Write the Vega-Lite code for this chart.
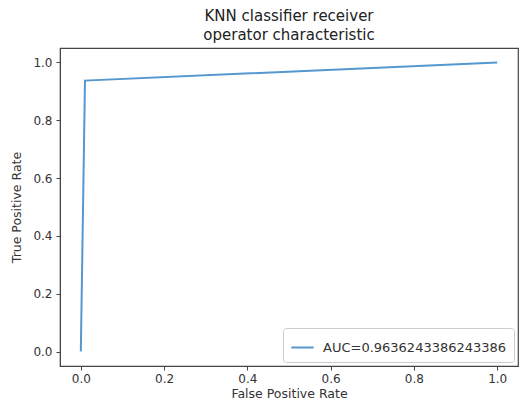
{
  "$schema": "https://vega.github.io/schema/vega-lite/v6.json",
  "autosize": {"type": "none"},
  "width": 458,
  "height": 318,
  "padding": {"left": 60, "top": 48, "right": 1, "bottom": 36},
  "background": "white",
  "config": {
    "font": "DejaVu Sans",
    "view": {"stroke": "#444", "strokeWidth": 1.2}
  },
  "title": {
    "text": ["KNN classifier receiver", "operator characteristic"],
    "fontSize": 15,
    "fontWeight": "normal",
    "color": "#222",
    "anchor": "middle",
    "offset": 5,
    "lineHeight": 19
  },
  "data": {
    "values": [
      {"fpr": 0.0, "tpr": 0.0, "series": "AUC=0.9636243386243386"},
      {"fpr": 0.01, "tpr": 0.9372, "series": "AUC=0.9636243386243386"},
      {"fpr": 1.0, "tpr": 1.0, "series": "AUC=0.9636243386243386"}
    ]
  },
  "mark": {"type": "line", "strokeWidth": 2, "clip": true},
  "encoding": {
    "x": {
      "field": "fpr", "type": "quantitative",
      "scale": {"domain": [-0.05, 1.05], "nice": false, "zero": false},
      "axis": {
        "title": "False Positive Rate", "titleFontSize": 12.5, "titleFontWeight": "normal", "titleColor": "#333",
        "values": [0, 0.2, 0.4, 0.6, 0.8, 1.0], "format": ".1f",
        "labelFontSize": 12, "labelColor": "#333", "grid": false,
        "domainColor": "#444", "tickColor": "#444", "tickSize": 4, "labelPadding": 3, "titlePadding": 3, "labelFlush": false
      }
    },
    "y": {
      "field": "tpr", "type": "quantitative",
      "scale": {"domain": [-0.05, 1.05], "nice": false, "zero": false},
      "axis": {
        "title": "True Positive Rate", "titleFontSize": 12.5, "titleFontWeight": "normal", "titleColor": "#333",
        "values": [0, 0.2, 0.4, 0.6, 0.8, 1.0], "format": ".1f",
        "labelFontSize": 12, "labelColor": "#333", "grid": false,
        "domainColor": "#444", "tickColor": "#444", "tickSize": 4, "labelPadding": 4, "titlePadding": 9, "labelFlush": false
      }
    },
    "color": {
      "field": "series", "type": "nominal",
      "scale": {"range": ["#5597cf"]},
      "legend": {
        "title": null, "orient": "bottom-right", "symbolType": "stroke", "symbolStrokeWidth": 2,
        "symbolSize": 500, "labelFontSize": 13, "labelColor": "#333", "labelOffset": 8, "labelLimit": 400,
        "strokeColor": "#ccc", "fillColor": "white", "padding": 7, "cornerRadius": 3, "offset": 4
      }
    }
  }
}
